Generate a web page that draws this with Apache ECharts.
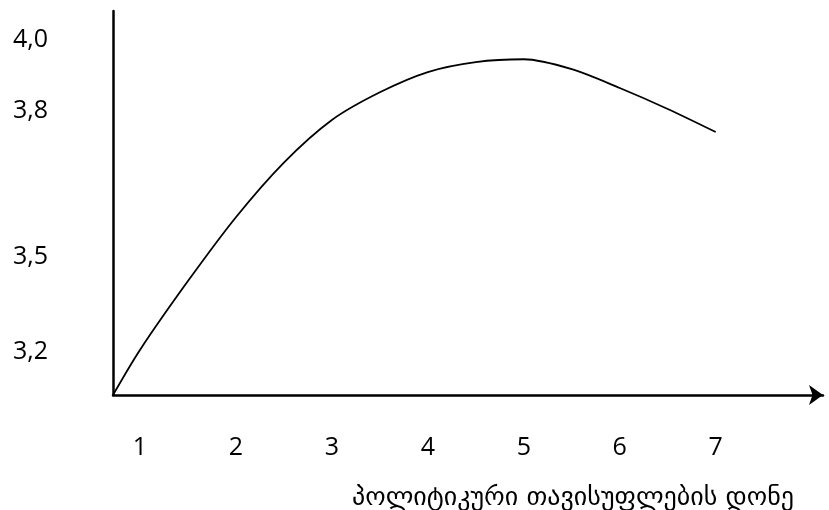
<!DOCTYPE html>
<html>
<head>
<meta charset="utf-8">
<script src="https://cdn.jsdelivr.net/npm/echarts@6/dist/echarts.min.js"></script>
<style>
  html, body { margin: 0; padding: 0; background: #fff; }
  #chart { width: 829px; height: 510px; }
</style>
</head>
<body>
<div id="chart"></div>
<script>
// curve (x = freedom level, y = value)
const xValues = [0.719, 1, 1.5, 2, 2.5, 3, 3.5, 4, 4.5, 5, 5.5, 6, 6.5, 7]
const yValues = [3.0, 3.127, 3.321, 3.501, 3.655, 3.775, 3.853, 3.91, 3.938, 3.946, 3.918, 3.865, 3.806, 3.741]

const xTicks = [1, 2, 3, 4, 5, 6, 7]
// y labels sit at uneven heights in the original
const yTickPos = [3.121, 3.389, 3.8, 4.0]
const yTickLabels = ['3,2', '3,5', '3,8', '4,0']

const axisTitle = 'პოლიტიკური თავისუფლების დონე'

const chart = echarts.init(document.getElementById('chart'), null, { renderer: 'canvas' })

const option = {
  animation: false,
  backgroundColor: '#fff',
  title: {
    text: axisTitle,
    left: 347,
    top: 480,
    textStyle: {
      fontFamily: 'DejaVu Sans',
      fontSize: 26,
      fontWeight: 'normal',
      color: '#000'
    }
  },
  grid: {
    left: 113,
    right: 6,
    top: 11,
    bottom: 115
  },
  xAxis: {
    type: 'value',
    min: 0.719,
    max: 8.118,
    splitLine: { show: false },
    axisTick: { show: false },
    axisLine: {
      onZero: false,
      symbol: ['none', 'arrow'],
      symbolSize: [15, 14],
      lineStyle: { color: '#000', width: 2.5 }
    },
    axisLabel: {
      customValues: xTicks,
      margin: 40,
      color: '#000',
      fontFamily: 'Open Sans',
      fontSize: 25
    }
  },
  yAxis: {
    type: 'value',
    min: 3.0,
    max: 4.082,
    splitLine: { show: false },
    axisTick: { show: false },
    axisLine: {
      show: true,
      onZero: false,
      lineStyle: { color: '#000', width: 2.5 }
    },
    axisLabel: {
      customValues: yTickPos,
      margin: 65,
      color: '#000',
      fontFamily: 'Open Sans',
      fontSize: 25,
      formatter: (val) => {
        const i = yTickPos.findIndex(p => Math.abs(p - val) < 1e-6)
        return i >= 0 ? yTickLabels[i] : ''
      }
    }
  },
  series: [
    {
      type: 'line',
      data: xValues.map((x, i) => [x, yValues[i]]),
      smooth: 0.3,
      showSymbol: false,
      lineStyle: { color: '#000', width: 1.8 }
    }
  ]
}

chart.setOption(option)
</script>
</body>
</html>
